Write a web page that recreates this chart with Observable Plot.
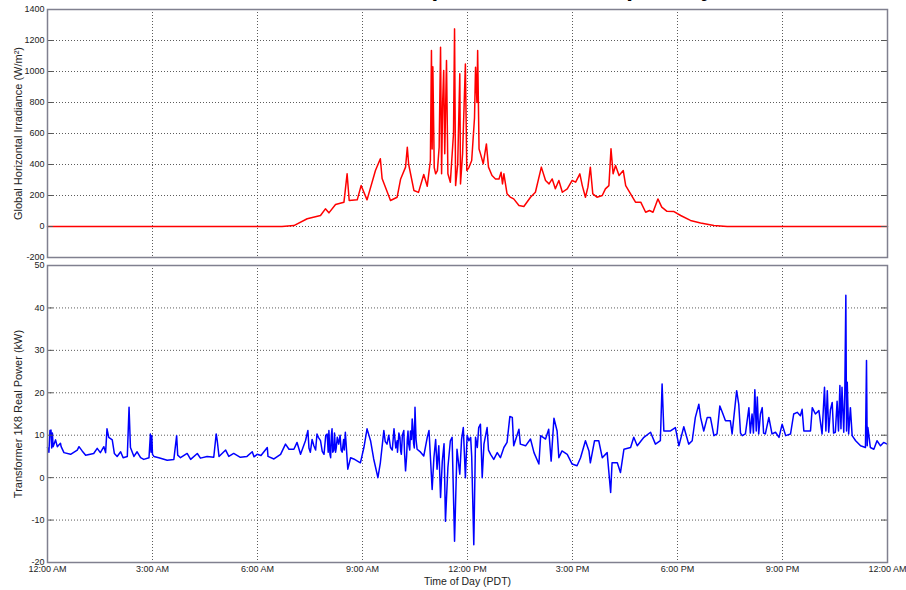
<!DOCTYPE html>
<html>
<head>
<meta charset="utf-8">
<script src="https://cdn.jsdelivr.net/npm/d3@7"></script>
<script src="https://cdn.jsdelivr.net/npm/@observablehq/plot@0.6"></script>
<style>
  html, body { margin: 0; padding: 0; background: #fff; }
  #wrap { position: relative; width: 906px; height: 590px; overflow: hidden; font-family: "Liberation Sans", Arial, sans-serif; }
  #title { position: absolute; top: -24px; left: 190px; font: bold 24px/24px "Liberation Sans", Arial, sans-serif; color: #000; white-space: nowrap; }
  #topChart { position: absolute; left: 0; top: 0; }
  #botChart { position: absolute; left: 0; top: 256px; }
</style>
</head>
<body>
<div id="wrap">
  <div id="topChart"></div>
  <div id="botChart"></div>
  <div id="title">Transformer 1K8 Response to Solar Input Day</div>
</div>
<script>
// ---- tick definitions ----
const hourTicks = [0, 3, 6, 9, 12, 15, 18, 21, 24];
const hourLabels = ["12:00 AM", "3:00 AM", "6:00 AM", "9:00 AM", "12:00 PM", "3:00 PM", "6:00 PM", "9:00 PM", "12:00 AM"];
const irrTicks = [-200, 0, 200, 400, 600, 800, 1000, 1200, 1400];
const powTicks = [-20, -10, 0, 10, 20, 30, 40, 50];

// ---- labels ----
const irrLabel = "Global Horizontal Irradiance (W/m²)";
const powLabel = "Transformer 1K8 Real Power (kW)";
const xLabel = "Time of Day (PDT)";

// ---- irradiance series: [hour of day, W/m²] ----
const irradiance = [
  [0, 0], [6.7, 0], [7.04, 6], [7.42, 50], [7.8, 71], [7.94, 114], [8.04, 88], [8.23, 142], [8.47, 157], [8.56, 340],
  [8.62, 168], [8.85, 172], [8.96, 264], [9.13, 172], [9.37, 361], [9.51, 437], [9.56, 310], [9.8, 168], [9.99, 189], [10.09, 307],
  [10.23, 383], [10.28, 511], [10.32, 400], [10.47, 232], [10.6, 220], [10.75, 335], [10.85, 260], [10.94, 426], [10.97, 1135], [10.99, 500],
  [11.01, 1030], [11.05, 380], [11.09, 340], [11.14, 360], [11.19, 511], [11.23, 1157], [11.26, 340], [11.29, 800], [11.32, 1006], [11.35, 470],
  [11.4, 1071], [11.44, 340], [11.51, 286], [11.6, 600], [11.63, 1275], [11.66, 264], [11.72, 400], [11.78, 985], [11.8, 275], [11.86, 470],
  [11.94, 1049], [11.98, 361], [12.04, 380], [12.12, 426], [12.2, 700], [12.23, 1028], [12.27, 800], [12.29, 1135], [12.33, 500], [12.37, 470],
  [12.45, 405], [12.54, 533], [12.6, 383], [12.7, 329], [12.8, 307], [12.9, 307], [12.96, 350], [13.0, 275], [13.04, 340], [13.13, 211],
  [13.22, 190], [13.32, 178], [13.47, 135], [13.61, 129], [13.8, 189], [13.94, 221], [14.11, 383], [14.23, 297], [14.33, 275], [14.42, 307],
  [14.51, 243], [14.61, 297], [14.71, 221], [14.85, 243], [14.99, 297], [15.09, 286], [15.21, 340], [15.28, 264], [15.37, 189], [15.44, 254],
  [15.51, 383], [15.58, 211], [15.7, 189], [15.85, 200], [15.94, 243], [16.04, 264], [16.1, 501], [16.16, 340], [16.23, 394], [16.33, 329],
  [16.45, 361], [16.52, 264], [16.66, 211], [16.8, 157], [16.95, 157], [17.09, 92], [17.2, 103], [17.3, 92], [17.44, 178], [17.55, 125],
  [17.7, 98], [17.9, 96], [18.09, 71], [18.37, 39], [18.66, 22], [19.04, 7], [19.42, 0], [24, 0]
];

// ---- transformer power series: [hour of day, kW] ----
const power = [
  [0, 7.1], [0.04, 6.0], [0.07, 11.1], [0.1, 11.2], [0.12, 7.0], [0.14, 10.5], [0.16, 7.3], [0.23, 8.9], [0.28, 7.3], [0.37, 8.1],
  [0.39, 7.3], [0.47, 5.9], [0.66, 5.5], [0.85, 6.5], [0.9, 7.3], [0.99, 6.3], [1.09, 5.3], [1.32, 5.7], [1.42, 6.9], [1.51, 5.9],
  [1.61, 7.3], [1.66, 5.9], [1.7, 11.5], [1.75, 9.5], [1.85, 8.9], [1.91, 5.7], [1.99, 5.0], [2.09, 6.1], [2.16, 4.7], [2.28, 5.0],
  [2.33, 16.6], [2.37, 7.1], [2.47, 5.0], [2.56, 6.1], [2.66, 4.7], [2.75, 4.3], [2.9, 4.7], [2.94, 10.3], [2.96, 6.0], [2.98, 9.9],
  [3.0, 5.5], [3.04, 5.0], [3.18, 4.7], [3.42, 4.1], [3.61, 4.3], [3.69, 9.9], [3.72, 5.3], [3.8, 4.7], [3.99, 5.7], [4.09, 4.3],
  [4.28, 5.7], [4.37, 4.6], [4.56, 5.0], [4.75, 4.8], [4.82, 10.3], [4.85, 8.7], [4.9, 5.0], [5.09, 6.5], [5.18, 5.0], [5.32, 5.7],
  [5.51, 4.8], [5.7, 5.0], [5.85, 6.1], [5.9, 4.9], [5.99, 5.5], [6.1, 5.2], [6.28, 7.1], [6.3, 5.0], [6.47, 4.4], [6.66, 5.5],
  [6.8, 7.9], [6.9, 6.7], [7.04, 6.7], [7.13, 8.3], [7.23, 5.5], [7.37, 8.7], [7.44, 11.1], [7.47, 7.0], [7.51, 6.0], [7.56, 9.0],
  [7.61, 7.5], [7.66, 6.5], [7.7, 10.3], [7.74, 9.5], [7.8, 8.7], [7.85, 6.2], [7.9, 5.5], [7.95, 10.0], [7.99, 10.3], [8.02, 6.0],
  [8.04, 11.1], [8.07, 5.5], [8.09, 4.7], [8.11, 10.0], [8.13, 11.5], [8.15, 6.0], [8.18, 6.5], [8.2, 10.5], [8.23, 6.0], [8.25, 7.0],
  [8.28, 9.5], [8.32, 7.9], [8.36, 10.0], [8.39, 6.5], [8.42, 6.0], [8.46, 9.0], [8.48, 6.5], [8.51, 10.7], [8.58, 2.0], [8.66, 4.7],
  [8.75, 4.4], [8.94, 3.5], [9.04, 7.1], [9.13, 11.5], [9.23, 8.7], [9.32, 4.4], [9.44, 0], [9.51, 3.5], [9.61, 11.1], [9.65, 8.5],
  [9.7, 7.9], [9.75, 10.0], [9.8, 7.1], [9.85, 6.5], [9.9, 11.5], [9.95, 7.0], [9.99, 8.7], [10.0, 6.0], [10.04, 10.5], [10.07, 9.5],
  [10.09, 6.3], [10.11, 5.5], [10.14, 10.0], [10.18, 11.1], [10.2, 6.0], [10.23, 1.6], [10.26, 5.0], [10.28, 9.0], [10.3, 11.0], [10.32, 7.9],
  [10.35, 6.5], [10.37, 11.0], [10.4, 9.0], [10.42, 13.8], [10.44, 12.0], [10.46, 8.0], [10.48, 7.0], [10.5, 16.6], [10.53, 9.0], [10.56, 6.7],
  [10.66, 6.0], [10.75, 5.1], [10.85, 9.5], [10.9, 11.1], [10.99, -2.8], [11.04, 4.7], [11.09, 9.0], [11.13, 2.0], [11.18, 7.5], [11.23, -4.7],
  [11.28, 3.9], [11.33, 8.0], [11.37, -10.3], [11.44, 2.4], [11.51, 8.7], [11.56, 9.5], [11.63, -15.0], [11.7, 6.7], [11.78, 0.8], [11.83, 9.0],
  [11.88, 11.8], [11.94, 0], [11.99, 10.0], [12.04, 8.7], [12.09, 9.5], [12.12, 5.0], [12.18, -15.8], [12.23, 9.5], [12.28, 7.1], [12.32, 11.8],
  [12.37, 12.6], [12.42, 0], [12.47, 7.9], [12.56, 11.8], [12.6, 6.5], [12.66, 5.5], [12.75, 4.3], [12.85, 5.9], [12.94, 4.7], [13.04, 7.1],
  [13.13, 8.3], [13.21, 14.4], [13.28, 14.2], [13.32, 7.5], [13.47, 11.4], [13.51, 7.9], [13.66, 7.5], [13.8, 9.1], [13.9, 5.9], [14.04, 3.2],
  [14.09, 9.9], [14.23, 9.1], [14.32, 11.4], [14.39, 3.9], [14.47, 14.0], [14.56, 11.0], [14.61, 4.7], [14.7, 6.3], [14.85, 5.5], [14.99, 3.2],
  [15.13, 2.8], [15.23, 4.7], [15.37, 8.7], [15.47, 6.3], [15.51, 3.5], [15.63, 8.7], [15.75, 8.7], [15.85, 4.7], [15.99, 5.9], [16.09, -3.5],
  [16.13, 3.5], [16.28, 3.5], [16.37, 1.2], [16.47, 6.7], [16.66, 7.1], [16.75, 9.5], [16.85, 7.5], [17.04, 9.5], [17.23, 10.7], [17.37, 7.9],
  [17.51, 8.7], [17.56, 22.1], [17.61, 11.0], [17.8, 11.0], [17.94, 11.8], [18.04, 7.5], [18.18, 12.0], [18.32, 7.9], [18.42, 8.7], [18.51, 14.2],
  [18.61, 17.3], [18.66, 14.2], [18.75, 11.0], [18.85, 14.2], [18.94, 14.2], [19.04, 9.9], [19.13, 10.3], [19.21, 16.9], [19.28, 15.4], [19.37, 13.4],
  [19.51, 13.4], [19.56, 10.3], [19.69, 20.5], [19.75, 17.3], [19.8, 10.5], [19.85, 9.9], [19.94, 10.3], [20.04, 16.5], [20.08, 10.5], [20.13, 15.0],
  [20.17, 10.5], [20.21, 20.7], [20.25, 11.0], [20.28, 19.0], [20.32, 10.3], [20.37, 15.0], [20.42, 16.5], [20.46, 10.5], [20.51, 10.3], [20.61, 14.2],
  [20.7, 10.3], [20.8, 10.7], [20.9, 9.5], [20.99, 12.6], [21.09, 9.9], [21.23, 10.3], [21.32, 15.0], [21.42, 15.4], [21.51, 14.6], [21.56, 16.1],
  [21.61, 11.0], [21.8, 11.0], [21.85, 16.5], [21.94, 15.0], [22.04, 15.8], [22.13, 10.3], [22.2, 21.3], [22.24, 11.0], [22.28, 20.5], [22.32, 10.7],
  [22.37, 16.0], [22.42, 17.7], [22.46, 10.5], [22.51, 10.7], [22.56, 18.0], [22.6, 11.0], [22.64, 21.7], [22.67, 11.5], [22.7, 21.3], [22.75, 10.7],
  [22.78, 20.0], [22.81, 43.0], [22.83, 11.0], [22.85, 22.5], [22.89, 10.3], [22.94, 16.5], [22.99, 9.9], [23.09, 8.7], [23.23, 7.5], [23.37, 7.1],
  [23.4, 27.6], [23.42, 7.5], [23.44, 11.8], [23.51, 7.1], [23.61, 6.7], [23.7, 8.7], [23.8, 7.5], [23.89, 8.3], [23.99, 7.9], [24, 7.9]
];

const irrData = irradiance.map(([hour, value]) => ({hour, value}));
const powData = power.map(([hour, value]) => ({hour, value}));

const font = "'Liberation Sans', Arial, Helvetica, sans-serif";
const gridStyle = {stroke: "#4a4a4a", strokeOpacity: 0.9, strokeDasharray: "1,2", strokeWidth: 1};
const frameColor = "#80808f";
const innerGridX = hourTicks.slice(1, -1);

function panel({data, yTicks, domain, color, width, label, height, marginBottom, showX}) {
  const innerY = yTicks.slice(1, -1);
  const marks = [
    Plot.gridX(innerGridX, gridStyle),
    Plot.gridY(innerY, gridStyle),
    Plot.line(data, {x: "hour", y: "value", stroke: color, strokeWidth: width, curve: "linear"}),
    Plot.ruleY(innerY, {x1: 0, x2: 0.17, stroke: "#555", strokeWidth: 1}),
    Plot.ruleY(innerY, {x1: 23.83, x2: 24, stroke: "#555", strokeWidth: 1}),
    Plot.frame({stroke: frameColor, strokeWidth: 1.5}),
    Plot.axisY(yTicks, {tickSize: 0, tickPadding: 3, tickFormat: d => String(d), label: null, fontSize: 9, fill: "#222"}),
    Plot.text([label], {text: d => d, frameAnchor: "left", textAnchor: "middle", lineAnchor: "middle", rotate: -90, dx: -29, fontSize: 11, fill: "#222"})
  ];
  if (showX) {
    marks.push(Plot.axisX(hourTicks, {tickSize: 0, tickPadding: 3, tickFormat: (d, i) => hourLabels[i], label: null, fontSize: 9, fill: "#222"}));
    marks.push(Plot.text([xLabel], {text: d => d, frameAnchor: "bottom", lineAnchor: "middle", dy: 19, fontSize: 10.5, fill: "#222"}));
  }
  return Plot.plot({
    width: 906,
    height,
    marginLeft: 47,
    marginRight: 19,
    marginTop: 9,
    marginBottom,
    style: {background: "transparent", fontFamily: font, fontSize: "9px", color: "#222", overflow: "visible"},
    x: {domain: [0, 24], axis: null},
    y: {domain, axis: null},
    marks
  });
}

document.getElementById("topChart").append(panel({
  data: irrData, yTicks: irrTicks, domain: [-200, 1400], color: "#ff0000", width: 1.5,
  label: irrLabel, height: 262, marginBottom: 5, showX: false
}));
document.getElementById("botChart").append(panel({
  data: powData, yTicks: powTicks, domain: [-20, 50], color: "#0000ff", width: 1.5,
  label: powLabel, height: 334, marginBottom: 28, showX: true
}));
</script>
</body>
</html>
